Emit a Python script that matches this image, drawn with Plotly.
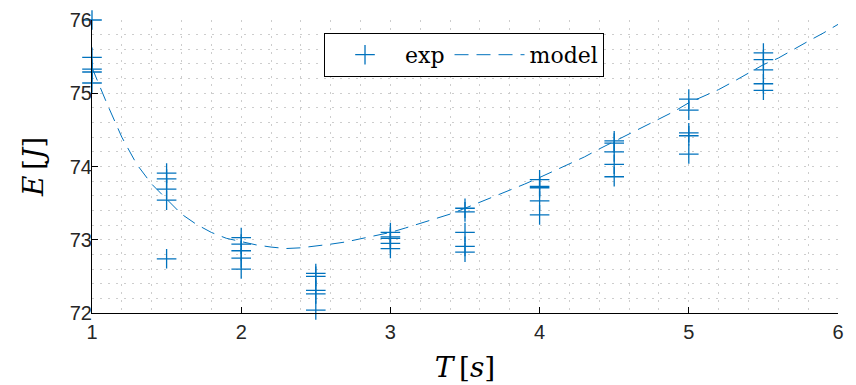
import plotly.graph_objects as go

# experimental data
exp_T = [1.0]*5 + [1.5]*5 + [2.0]*5 + [2.5]*5 + [3.0]*5 + [3.5]*5 + [4.0]*5 + [4.5]*5 + [5.0]*5 + [5.5]*5
exp_E = [76.00, 75.49, 75.33, 75.29, 75.14,
         73.91, 73.83, 73.69, 73.54, 72.74,
         73.03, 72.94, 72.85, 72.75, 72.60,
         72.54, 72.50, 72.31, 72.26, 72.04,
         73.10, 73.04, 73.02, 72.95, 72.88,
         73.43, 73.38, 73.10, 72.91, 72.83,
         73.82, 73.73, 73.71, 73.53, 73.34,
         74.35, 74.32, 74.20, 74.03, 73.86,
         74.92, 74.77, 74.46, 74.42, 74.17,
         75.55, 75.46, 75.32, 75.13, 75.04]

# model curve
model_T = [1.0, 1.1, 1.2, 1.3, 1.4, 1.5, 1.6, 1.7, 1.8, 1.9,
           2.0, 2.1, 2.2, 2.3, 2.4, 2.5, 2.6, 2.7, 2.8, 2.9,
           3.0, 3.1, 3.2, 3.3, 3.4, 3.5, 3.6, 3.7, 3.8, 3.9,
           4.0, 4.1, 4.2, 4.3, 4.4, 4.5, 4.6, 4.7, 4.8, 4.9,
           5.0, 5.1, 5.2, 5.3, 5.4, 5.5, 5.6, 5.7, 5.8, 5.9, 6.0]
model_E = [75.35, 74.86, 74.40, 74.03, 73.76, 73.55, 73.35, 73.21, 73.10, 73.02,
           72.97, 72.93, 72.90, 72.88, 72.89, 72.91, 72.94, 72.97, 73.01, 73.05,
           73.10, 73.16, 73.22, 73.28, 73.35, 73.43, 73.51, 73.59, 73.67, 73.76,
           73.85, 73.94, 74.04, 74.13, 74.24, 74.34, 74.44, 74.54, 74.64, 74.75,
           74.87, 74.96, 75.05, 75.16, 75.27, 75.39, 75.48, 75.60, 75.71, 75.82, 75.94]

x_ticks = [1, 2, 3, 4, 5, 6]
y_ticks = [72, 73, 74, 75, 76]

blue = "#0072BD"
serif = "DejaVu Serif, Liberation Serif, serif"
sans = "Liberation Sans, Arial, sans-serif"

fig = go.Figure()
fig.add_trace(go.Scatter(
    x=exp_T, y=exp_E, mode="markers", name="exp", cliponaxis=False,
    marker=dict(symbol="cross-thin", size=14, color=blue,
                line=dict(color=blue, width=1.3)),
))
fig.add_trace(go.Scatter(
    x=model_T, y=model_E, mode="lines", name="model",
    line=dict(color=blue, width=1, dash="14px,8px"),
))

grid_color = "#cdcdcd"
grid_dash = "2px,6px"
axis_common = dict(
    showline=True, linecolor="black", linewidth=1,
    ticks="inside", ticklen=6, tickcolor="black", tickwidth=1,
    mirror=False, zeroline=False, automargin=False,
    showgrid=True, gridcolor=grid_color, griddash=grid_dash, gridwidth=1,
    tickfont=dict(family=sans, size=20, color="#262626"),
)

fig.update_xaxes(
    range=[1, 6], tickvals=x_ticks, ticktext=[str(v) for v in x_ticks],
    minor=dict(dtick=0.2, tick0=1, showgrid=True, gridcolor=grid_color, griddash=grid_dash, gridwidth=1),
    title=dict(text="<i>T</i>\u2009[<i>s</i>]", font=dict(family=serif, size=28, color="black"), standoff=15),
    ticklabelstandoff=1,
    **axis_common,
)
fig.update_yaxes(
    range=[72, 76], tickvals=y_ticks, ticktext=[str(v) for v in y_ticks],
    minor=dict(dtick=0.2, tick0=72, showgrid=True, gridcolor=grid_color, griddash=grid_dash, gridwidth=1),
    title=dict(text="<i>E</i>\u2009[<i>J</i>]", font=dict(family=serif, size=28, color="black"), standoff=17),
    ticklabelstandoff=-5,
    **axis_common,
)

fig.update_layout(
    width=856, height=385,
    margin=dict(l=92, r=18, t=20, b=72),
    paper_bgcolor="white", plot_bgcolor="white",
    showlegend=True,
    legend=dict(
        orientation="h", x=0.311, y=0.956, xanchor="left", yanchor="top",
        bgcolor="white", bordercolor="black", borderwidth=1,
        font=dict(family=serif, size=22, color="black"),
        itemwidth=70,
    ),
)

fig.write_html("out.html", config={"displayModeBar": False},
               post_script="document.body.style.margin='0';")
